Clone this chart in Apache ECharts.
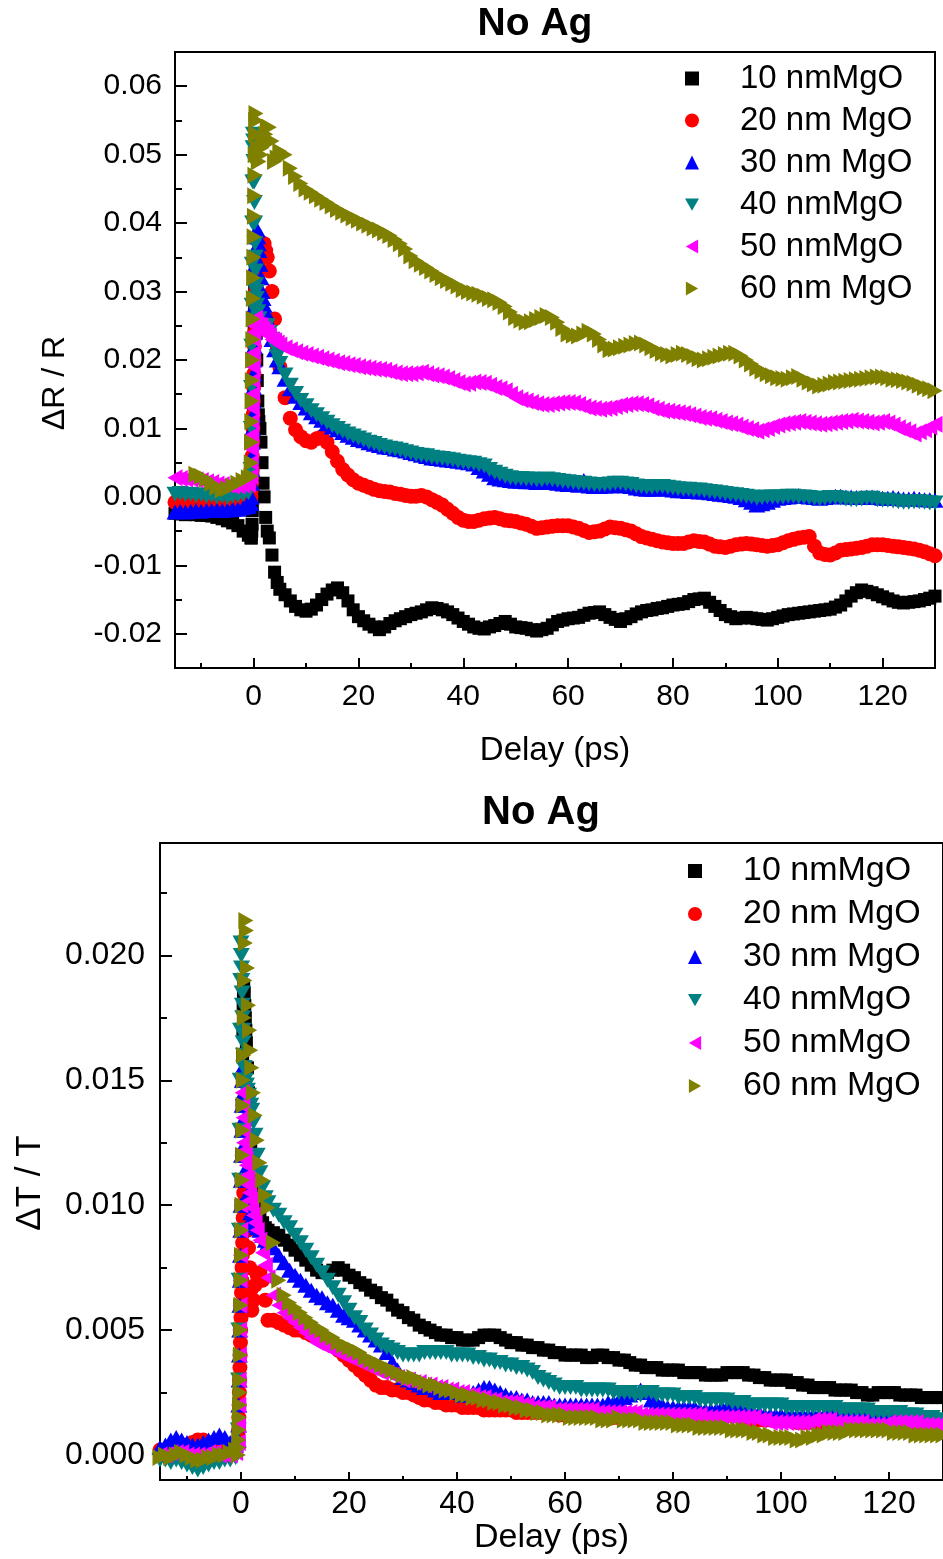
<!DOCTYPE html>
<html><head><meta charset="utf-8">
<script src="https://cdn.jsdelivr.net/npm/echarts@6/dist/echarts.min.js"></script>
<style>html,body{margin:0;padding:0;background:#fff}#c{width:943px;height:1559px}</style>
</head><body><div id="c"></div>
<script>
const SERIES_NAMES = ['10 nmMgO','20 nm MgO','30 nm MgO','40 nmMgO','50 nmMgO','60 nm MgO'];
const COLORS = ['#000000','#ff0000','#0000ff','#008080','#ff00ff','#808000'];
const X_MAJOR = [0,20,40,60,80,100,120];
const X_MINOR = [-10,10,30,50,70,90,110,130];
const R_Y_MAJOR = [-0.02,-0.01,0,0.01,0.02,0.03,0.04,0.05,0.06];
const R_Y_MINOR = [-0.015,-0.005,0.005,0.015,0.025,0.035,0.045,0.055];
const T_Y_MAJOR = [0,0.005,0.01,0.015,0.02];
const T_Y_MINOR = [0.0025,0.0075,0.0125,0.0175,0.0225];

// delay (ps), shared by both panels
const DELAY = [-15,-14,-13,-12,-11,-10,-9,-8,-7,-6,-5,-4,-3,-2,-1,
-0.5,-0.45,-0.4,-0.35,-0.3,-0.25,-0.2,-0.15,-0.1,-0.05,0,0.05,0.1,0.15,0.2,0.25,0.3,0.35,0.4,0.45,0.5,
0.6,0.7,0.8,0.9,1,1.2,1.4,1.6,1.8,2,2.3,2.6,3,3.5,4,4.5,5,
6,7,8,9,10,11,12,13,14,15,
16,17,18,19,20,21,22,23,24,25,
26,27,28,29,30,31,32,33,34,35,
36,37,38,39,40,41,42,43,44,45,
46,47,48,49,50,51,52,53,54,55,
56,57,58,59,60,61,62,63,64,65,
66,67,68,69,70,71,72,73,74,75,
76,77,78,79,80,81,82,83,84,85,
86,87,88,89,90,91,92,93,94,95,
96,97,98,99,100,101,102,103,104,105,
106,107,108,109,110,111,112,113,114,115,
116,117,118,119,120,121,122,123,124,125,
126,127,128,129,130];

// top panel: dR/R
const R10 = [-0.0024,-0.0025,-0.0026,-0.0025,-0.0026,-0.0027,-0.0027,-0.0028,-0.003,-0.0032,-0.0035,-0.0038,-0.0042,-0.005,-0.0056,
-0.006,-0.006,-0.0055,-0.005,-0.004,-0.002,0.001,0.004,0.008,0.012,0.016,0.02,0.024,0.027,0.03,0.032,0.033,0.032,0.03,0.027,0.024,
0.02,0.017,0.014,0.012,0.011,0.01,0.008,0.005,0.002,0,-0.003,-0.005,-0.006,-0.0085,-0.011,-0.0125,-0.0135,
-0.0143,-0.0152,-0.016,-0.0165,-0.0167,-0.0164,-0.0158,-0.015,-0.0142,-0.0136,
-0.0133,-0.014,-0.0152,-0.0165,-0.0175,-0.0181,-0.0186,-0.019,-0.0194,-0.019,
-0.0185,-0.0181,-0.0178,-0.0175,-0.0172,-0.017,-0.0168,-0.0165,-0.0162,-0.0163,
-0.0165,-0.0168,-0.0172,-0.0177,-0.0182,-0.0186,-0.019,-0.0192,-0.0193,-0.019,
-0.0188,-0.0185,-0.0182,-0.0186,-0.019,-0.0191,-0.0192,-0.0194,-0.0196,-0.0194,
-0.0192,-0.0187,-0.0182,-0.018,-0.0178,-0.0177,-0.0176,-0.0173,-0.017,-0.0169,
-0.0168,-0.0172,-0.0176,-0.0179,-0.0182,-0.0178,-0.0175,-0.0171,-0.0168,-0.0166,
-0.0165,-0.0163,-0.0162,-0.016,-0.0158,-0.0157,-0.0156,-0.0153,-0.015,-0.0149,
-0.0148,-0.0154,-0.016,-0.0166,-0.0172,-0.0175,-0.0178,-0.0177,-0.0176,-0.0177,
-0.0178,-0.0179,-0.018,-0.0178,-0.0176,-0.0174,-0.0172,-0.0171,-0.017,-0.0169,
-0.0168,-0.0167,-0.0166,-0.0165,-0.0164,-0.0161,-0.0158,-0.0152,-0.0145,-0.014,
-0.0136,-0.0138,-0.014,-0.0143,-0.0146,-0.0149,-0.0152,-0.0154,-0.0155,-0.0154,
-0.0153,-0.0152,-0.015,-0.0148,-0.0145];
const R20 = [-0.0008,-0.0009,-0.0008,-0.001,-0.0009,-0.0008,-0.001,-0.0011,-0.001,-0.0009,-0.0008,-0.0008,-0.0007,-0.0005,-0.0002,
0,0.001,0.002,0.003,0.004,0.006,0.008,0.01,0.012,0.014,0.016,0.018,0.02,0.022,0.024,0.026,0.027,0.028,0.029,0.03,0.031,
0.032,0.033,0.034,0.035,0.036,0.037,0.037,0.037,0.037,0.037,0.036,0.035,0.033,0.03,0.026,0.022,0.019,
0.0145,0.0115,0.0098,0.0088,0.0082,0.008,0.0085,0.0088,0.008,0.0066,
0.0052,0.004,0.0032,0.0025,0.002,0.0017,0.0014,0.0011,0.0009,0.0008,
0.0007,0.0005,0.0004,0.0002,0.0001,0.0001,0.0002,0,-0.0004,-0.0008,
-0.0012,-0.0018,-0.0024,-0.003,-0.0034,-0.0036,-0.0036,-0.0034,-0.0032,-0.0031,
-0.003,-0.0032,-0.0034,-0.0035,-0.0036,-0.0038,-0.004,-0.0043,-0.0046,-0.0045,
-0.0044,-0.0043,-0.0042,-0.0042,-0.0042,-0.0044,-0.0046,-0.0049,-0.0052,-0.0051,
-0.005,-0.0047,-0.0044,-0.0045,-0.0046,-0.0048,-0.005,-0.0054,-0.0058,-0.006,
-0.0062,-0.0064,-0.0066,-0.0067,-0.0068,-0.0068,-0.0068,-0.0066,-0.0064,-0.0065,
-0.0066,-0.0069,-0.0072,-0.0073,-0.0074,-0.0072,-0.007,-0.0069,-0.0068,-0.0069,
-0.007,-0.0071,-0.0072,-0.0071,-0.007,-0.0067,-0.0064,-0.0062,-0.006,-0.0059,
-0.0058,-0.0072,-0.0082,-0.0084,-0.0085,-0.0082,-0.0078,-0.0077,-0.0076,-0.0075,
-0.0074,-0.0072,-0.007,-0.007,-0.007,-0.0071,-0.0072,-0.0073,-0.0074,-0.0075,
-0.0076,-0.0078,-0.008,-0.0083,-0.0086];
const R30 = [-0.0022,-0.0021,-0.0022,-0.0021,-0.002,-0.0021,-0.002,-0.002,-0.0019,-0.002,-0.0019,-0.0018,-0.0018,-0.0016,-0.0014,
-0.001,0,0.002,0.004,0.006,0.008,0.01,0.012,0.014,0.016,0.018,0.02,0.022,0.024,0.026,0.028,0.03,0.032,0.034,0.036,0.038,
0.039,0.039,0.038,0.037,0.036,0.034,0.032,0.03,0.029,0.028,0.027,0.026,0.025,0.023,0.0215,0.02,0.019,
0.0172,0.0158,0.0147,0.0138,0.013,0.0123,0.0117,0.0112,0.0107,0.0102,
0.0098,0.0094,0.009,0.0087,0.0084,0.0082,0.0079,0.0077,0.0075,0.0073,
0.0072,0.007,0.0069,0.0067,0.0065,0.0063,0.0061,0.0059,0.0057,0.0056,
0.0055,0.0054,0.0053,0.0052,0.0051,0.005,0.0048,0.0043,0.0038,0.0033,
0.0028,0.0026,0.0025,0.0024,0.0023,0.0023,0.0022,0.0022,0.0021,0.0022,
0.0022,0.0021,0.002,0.0019,0.0018,0.0018,0.0017,0.0024,0.0016,0.0015,
0.0015,0.0016,0.0016,0.0017,0.0018,0.0016,0.0015,0.0013,0.0012,0.0011,
0.0011,0.0012,0.0012,0.0011,0.001,0.0009,0.0009,0.0008,0.0008,0.0007,
0.0007,0.0006,0.0005,0.0004,0.0003,0.0002,0.0001,-0.0001,-0.0004,-0.0008,
-0.0012,-0.001,-0.0008,-0.0005,-0.0002,-0.0001,0,0.0001,0.0002,0.0001,
0,-0.0001,-0.0002,-0.0001,0,0.0001,0.0001,0,0,-0.0001,
-0.0001,0,0,-0.0001,-0.0002,-0.0002,-0.0001,-0.0002,-0.0003,-0.0003,
-0.0002,-0.0003,-0.0004,-0.0004,-0.0005];
const R40 = [0.0004,0.0005,0.0003,0.0004,0.0002,0.0003,0.0001,0.0002,0,0.0001,-0.0001,0.0001,0.0002,0.0004,0.0006,
0.004,0.01,0.016,0.022,0.028,0.034,0.04,0.046,0.051,0.053,0.052,0.049,0.046,0.043,0.04,0.037,0.035,0.033,0.031,0.03,0.029,
0.028,0.027,0.027,0.026,0.026,0.025,0.025,0.025,0.025,0.025,0.025,0.025,0.024,0.023,0.022,0.0205,0.0195,
0.0178,0.0163,0.0151,0.0141,0.0133,0.0126,0.012,0.0114,0.0109,0.0104,
0.01,0.0096,0.0092,0.0089,0.0086,0.0083,0.008,0.0078,0.0075,0.0073,
0.0071,0.007,0.0068,0.0066,0.0064,0.0062,0.0061,0.006,0.0058,0.0057,
0.0056,0.0055,0.0054,0.0052,0.0051,0.005,0.0049,0.0047,0.0045,0.004,
0.0036,0.0033,0.003,0.0028,0.0027,0.0027,0.0026,0.0026,0.0025,0.0025,
0.0026,0.0025,0.0024,0.0023,0.0022,0.0021,0.002,0.002,0.0019,0.0018,
0.0018,0.0018,0.0019,0.002,0.002,0.0019,0.0018,0.0016,0.0015,0.0014,
0.0014,0.0015,0.0015,0.0014,0.0013,0.0012,0.0011,0.0011,0.001,0.001,
0.0009,0.0008,0.0007,0.0006,0.0005,0.0004,0.0003,0.0002,0.0001,0,
-0.0002,-0.0001,0,0,0,0,0.0001,0.0001,0,0,
-0.0001,-0.0002,-0.0003,-0.0002,-0.0001,-0.0001,-0.0002,-0.0003,-0.0004,-0.0004,
-0.0003,-0.0002,-0.0002,-0.0004,-0.0005,-0.0005,-0.0006,-0.0007,-0.0008,-0.0008,
-0.0007,-0.0007,-0.0008,-0.0009,-0.0009];
const R50 = [0.0028,0.0027,0.0026,0.0026,0.0025,0.0024,0.0022,0.0021,0.0019,0.0018,0.0017,0.0016,0.0016,0.0017,0.0018,
0.003,0.005,0.007,0.009,0.011,0.013,0.015,0.017,0.019,0.021,0.023,0.024,0.025,0.026,0.026,0.026,0.026,0.026,0.0255,0.0255,0.025,
0.025,0.025,0.025,0.025,0.025,0.025,0.025,0.0245,0.0245,0.024,0.024,0.024,0.0235,0.023,0.0228,0.0225,0.0222,
0.0218,0.0215,0.0212,0.021,0.0208,0.0206,0.0204,0.0202,0.02,0.0198,
0.0196,0.0195,0.0193,0.0192,0.019,0.0189,0.0188,0.0187,0.0186,0.0185,
0.0183,0.0181,0.018,0.018,0.018,0.0181,0.0182,0.018,0.0178,0.0177,
0.0175,0.0173,0.017,0.0167,0.0165,0.0166,0.0168,0.0167,0.0166,0.0163,
0.016,0.0158,0.0155,0.015,0.0145,0.0142,0.014,0.0138,0.0136,0.0135,
0.0135,0.0136,0.0137,0.0138,0.0138,0.0137,0.0135,0.0132,0.013,0.0129,
0.0128,0.0129,0.013,0.0132,0.0134,0.0135,0.0136,0.0136,0.0135,0.0133,
0.013,0.0128,0.0126,0.0125,0.0124,0.0123,0.0122,0.012,0.0118,0.0116,
0.0115,0.0114,0.0112,0.011,0.0108,0.0107,0.0105,0.0102,0.01,0.0098,
0.0096,0.0098,0.01,0.0103,0.0105,0.0107,0.0108,0.0109,0.011,0.0109,
0.0108,0.0107,0.0106,0.0107,0.0108,0.0109,0.011,0.0111,0.0112,0.0111,
0.011,0.0109,0.0108,0.0109,0.011,0.0108,0.0105,0.0101,0.0098,0.0095,
0.0092,0.0095,0.0098,0.0102,0.0106];
const R60 = [null,null,null,null,0.0033,0.003,0.0026,0.002,0.0014,0.001,0.0012,0.0016,0.002,0.0024,0.0028,
0.003,0.005,0.008,0.011,0.014,0.017,0.02,0.023,0.026,0.029,0.032,0.035,0.038,0.041,0.044,0.047,0.05,0.053,0.055,0.056,0.055,
0.053,0.051,0.05,0.049,0.049,0.05,0.05,0.051,0.052,0.052,0.053,0.054,0.054,0.052,0.049,0.0495,0.0505,
0.05,0.048,0.0468,0.0458,0.045,0.0445,0.044,0.0435,0.043,0.0425,
0.042,0.0416,0.0412,0.0408,0.0404,0.04,0.0397,0.0393,0.039,0.0386,
0.0382,0.0376,0.037,0.0362,0.0352,0.0345,0.034,0.0335,0.033,0.0325,
0.032,0.0316,0.0312,0.0308,0.0303,0.03,0.0298,0.0296,0.0293,0.029,
0.0288,0.0284,0.0278,0.027,0.0262,0.0258,0.0255,0.0256,0.0259,0.0262,
0.0265,0.0262,0.0255,0.0246,0.0238,0.0236,0.0235,0.0238,0.0242,0.0238,
0.023,0.0222,0.0215,0.0216,0.0218,0.022,0.0222,0.0224,0.0225,0.0222,
0.0218,0.0214,0.021,0.0208,0.0206,0.0208,0.021,0.0208,0.0205,0.0202,
0.02,0.0202,0.0204,0.0206,0.0208,0.021,0.021,0.0206,0.02,0.0194,
0.0188,0.0184,0.018,0.0177,0.0174,0.0173,0.0172,0.0174,0.0176,0.0172,
0.0168,0.0165,0.0162,0.0163,0.0165,0.0167,0.0168,0.0169,0.017,0.0171,
0.0172,0.0173,0.0174,0.0175,0.0175,0.0174,0.0172,0.0171,0.017,0.0168,
0.0166,0.0163,0.016,0.0158,0.0155];

// bottom panel: dT/T
const T10 = [0,0,0.0001,0,0,0.0001,0,0,0.0001,0,0,0.0001,0.0001,0.0002,0.0003,
0.0005,0.001,0.002,0.003,0.004,0.005,0.006,0.007,0.008,0.009,0.01,0.011,0.012,0.013,0.014,0.015,0.016,0.017,0.018,0.0185,0.0188,
0.0185,0.018,0.0175,0.017,0.0165,0.0155,0.0145,0.0135,0.0125,0.0118,0.011,0.0105,0.01,0.0096,0.0093,0.0091,0.009,
0.0089,0.0088,0.0086,0.0084,0.0082,0.008,0.0078,0.0076,0.0074,0.0073,
0.0073,0.0074,0.0075,0.0074,0.0072,0.0071,0.0069,0.0068,0.0066,0.0065,
0.0063,0.0062,0.006,0.0058,0.0057,0.0055,0.0054,0.0052,0.0051,0.005,
0.0049,0.0048,0.0048,0.0047,0.0047,0.0046,0.0046,0.0046,0.0047,0.0048,
0.0048,0.0048,0.0047,0.0046,0.0045,0.0045,0.0044,0.0044,0.0043,0.0043,
0.0042,0.0042,0.0041,0.0041,0.004,0.004,0.004,0.004,0.0039,0.0039,
0.004,0.004,0.0039,0.0039,0.0038,0.0038,0.0037,0.0036,0.0036,0.0035,
0.0035,0.0035,0.0034,0.0034,0.0034,0.0034,0.0033,0.0033,0.0033,0.0033,
0.0032,0.0032,0.0032,0.0032,0.0033,0.0033,0.0033,0.0033,0.0032,0.0032,
0.0031,0.0031,0.003,0.003,0.003,0.003,0.0029,0.0029,0.0028,0.0028,
0.0027,0.0027,0.0027,0.0027,0.0026,0.0026,0.0026,0.0026,0.0025,0.0025,
0.0024,0.0024,0.0025,0.0025,0.0025,0.0025,0.0024,0.0024,0.0024,0.0024,
0.0023,0.0023,0.0023,0.0023,0.0023];
const T20 = [0.0002,0.0002,0.0003,0.0003,0.0003,0.0004,0.0005,0.0006,0.0006,0.0005,0.0004,0.0003,0.0003,0.0003,0.0004,
0.0006,0.001,0.0015,0.002,0.0025,0.003,0.0035,0.004,0.0045,0.005,0.0055,0.006,0.0065,0.007,0.0075,0.008,0.0085,0.009,0.0095,0.01,0.0105,
0.011,0.0108,0.0104,0.01,0.0095,0.009,0.0083,0.0075,0.0066,0.0058,0.0062,0.0068,0.0072,0.0073,0.007,0.0062,0.0054,
0.0054,0.0053,0.0052,0.0051,0.005,0.005,0.0049,0.0048,0.0048,0.0047,
0.0046,0.0044,0.0042,0.004,0.0038,0.0036,0.0034,0.0032,0.003,0.0028,
0.0027,0.0027,0.0026,0.0026,0.0025,0.0025,0.0024,0.0023,0.0022,0.0022,
0.0021,0.0021,0.002,0.002,0.002,0.0019,0.0019,0.0019,0.0019,0.0018,
0.0018,0.0018,0.0018,0.0018,0.0018,0.0017,0.0017,0.0017,0.0017,0.0017,
0.0017,0.0017,0.0017,0.0016,0.0016,0.0016,0.0016,0.0016,0.0016,0.0016,
0.0016,0.0015,0.0015,0.0015,0.0015,0.0015,0.0015,0.0015,0.0015,0.0015,
0.0015,0.0015,0.0015,0.0015,0.0015,0.0015,0.0015,0.0015,0.0015,0.0015,
0.0015,0.0016,0.0016,0.0016,0.0016,0.0016,0.0016,0.0015,0.0015,0.0014,
0.0014,0.0014,0.0014,0.0014,0.0014,0.0014,0.0014,0.0013,0.0013,0.0013,
0.0013,0.0013,0.0013,0.0013,0.0013,0.0013,0.0013,0.0013,0.0013,0.0013,
0.0013,0.0012,0.0012,0.0012,0.0012,0.0012,0.0012,0.0012,0.0012,0.0011,
0.0011,0.0011,0.0011,0.0011,0.0011];
const T30 = [0.0003,0.0004,0.0006,0.0007,0.0006,0.0005,0.0004,0.0004,0.0005,0.0006,0.0007,0.0008,0.0007,0.0005,0.0004,
0.0006,0.0012,0.002,0.003,0.004,0.005,0.006,0.007,0.008,0.009,0.01,0.011,0.012,0.013,0.014,0.015,0.0155,0.0155,0.015,0.0145,0.014,
0.0135,0.013,0.0125,0.012,0.0115,0.011,0.0105,0.01,0.0097,0.0095,0.0093,0.0092,0.0091,0.009,0.0088,0.0086,0.0085,
0.0083,0.008,0.0077,0.0074,0.0072,0.007,0.0068,0.0066,0.0064,0.0063,
0.0061,0.006,0.0058,0.0056,0.0055,0.0054,0.0052,0.005,0.0048,0.0046,
0.0044,0.0041,0.0037,0.0034,0.0031,0.003,0.0029,0.0028,0.0027,0.0027,
0.0026,0.0025,0.0025,0.0025,0.0025,0.0024,0.0024,0.0025,0.0026,0.0027,
0.0027,0.0026,0.0025,0.0024,0.0023,0.0023,0.0022,0.0022,0.0021,0.0021,
0.0021,0.0021,0.002,0.002,0.002,0.002,0.002,0.002,0.002,0.002,
0.002,0.002,0.0021,0.0021,0.0022,0.0023,0.0024,0.0025,0.0026,0.0025,
0.0022,0.0021,0.002,0.0019,0.0019,0.0019,0.0019,0.0019,0.0019,0.0018,
0.0018,0.0018,0.0018,0.0019,0.0019,0.0019,0.0019,0.0018,0.0018,0.0017,
0.0017,0.0016,0.0016,0.0016,0.0016,0.0016,0.0016,0.0016,0.0016,0.0016,
0.0016,0.0016,0.0016,0.0017,0.0017,0.0018,0.0018,0.0018,0.0018,0.0017,
0.0017,0.0016,0.0016,0.0015,0.0015,0.0015,0.0015,0.0015,0.0016,0.0015,
0.0015,0.0014,0.0014,0.0014,0.0014];
const T40 = [-0.0002,-0.0002,-0.0003,-0.0002,-0.0003,-0.0004,-0.0005,-0.0006,-0.0005,-0.0004,-0.0003,-0.0003,-0.0002,-0.0002,-0.0001,
0.001,0.003,0.005,0.007,0.009,0.011,0.013,0.015,0.017,0.019,0.0205,0.02,0.0195,0.019,0.0185,0.018,0.0175,0.017,0.0165,0.016,0.0155,
0.0155,0.015,0.015,0.0148,0.0148,0.0146,0.0144,0.0142,0.014,0.0138,0.0133,0.0128,0.012,0.0113,0.0107,0.0103,0.0101,
0.0098,0.0096,0.0093,0.0091,0.0088,0.0085,0.0082,0.0079,0.0076,0.0073,
0.007,0.0067,0.0064,0.0061,0.0058,0.0055,0.0053,0.005,0.0048,0.0046,
0.0044,0.0043,0.0042,0.0041,0.004,0.004,0.004,0.004,0.0041,0.0041,
0.0041,0.0041,0.0041,0.004,0.004,0.004,0.004,0.0039,0.0039,0.0038,
0.0038,0.0037,0.0037,0.0036,0.0036,0.0035,0.0035,0.0034,0.0033,0.0031,
0.003,0.0029,0.0028,0.0027,0.0027,0.0027,0.0027,0.0026,0.0026,0.0026,
0.0026,0.0026,0.0026,0.0025,0.0025,0.0025,0.0025,0.0024,0.0024,0.0025,
0.0025,0.0024,0.0024,0.0024,0.0024,0.0023,0.0023,0.0023,0.0023,0.0022,
0.0022,0.0022,0.0022,0.0022,0.0022,0.0021,0.0021,0.0021,0.002,0.002,
0.002,0.002,0.002,0.002,0.002,0.0019,0.0019,0.0019,0.0019,0.0019,
0.0019,0.0019,0.0019,0.0019,0.0019,0.0018,0.0018,0.0018,0.0018,0.0018,
0.0018,0.0017,0.0017,0.0017,0.0017,0.0017,0.0017,0.0016,0.0016,0.0016,
0.0015,0.0015,0.0015,0.0014,0.0014];
const T50 = [0,0,0.0001,0.0001,0.0001,0,0,0,0,0.0001,0.0001,0,0,0,0.0001,
0.0005,0.0012,0.002,0.003,0.004,0.005,0.006,0.007,0.008,0.009,0.01,0.011,0.012,0.013,0.014,0.0145,0.0145,0.014,0.0135,0.013,0.0125,
0.0125,0.0122,0.012,0.0118,0.0116,0.0112,0.0108,0.0105,0.0102,0.0099,0.0096,0.0093,0.009,0.0086,0.0081,0.0076,0.0071,
0.0064,0.006,0.0057,0.0055,0.0053,0.0051,0.0049,0.0047,0.0045,0.0044,
0.0043,0.0042,0.0041,0.004,0.0039,0.0038,0.0037,0.0036,0.0035,0.0034,
0.0033,0.0033,0.0032,0.0031,0.003,0.003,0.0029,0.0029,0.0028,0.0028,
0.0027,0.0027,0.0026,0.0026,0.0025,0.0025,0.0024,0.0024,0.0023,0.0023,
0.0022,0.0022,0.0021,0.0021,0.0021,0.0021,0.002,0.002,0.0019,0.0019,
0.0019,0.0019,0.0018,0.0018,0.0018,0.0018,0.0018,0.0018,0.0018,0.0018,
0.0017,0.0017,0.0017,0.0017,0.0017,0.0017,0.0017,0.0017,0.0016,0.0016,
0.0016,0.0016,0.0016,0.0016,0.0016,0.0016,0.0016,0.0016,0.0016,0.0016,
0.0015,0.0015,0.0015,0.0015,0.0015,0.0015,0.0015,0.0015,0.0015,0.0015,
0.0014,0.0014,0.0013,0.0013,0.0013,0.0013,0.0013,0.0013,0.0013,0.0013,
0.0014,0.0014,0.0014,0.0014,0.0013,0.0013,0.0013,0.0013,0.0013,0.0013,
0.0012,0.0012,0.0012,0.0012,0.0013,0.0013,0.0013,0.0013,0.0013,0.0013,
0.0012,0.0012,0.0012,0.0012,0.0012];
const T60 = [-0.0001,0,-0.0001,0,0.0001,0,-0.0001,-0.0002,-0.0002,-0.0001,-0.0001,0,0,0.0001,0.0002,
0,0.0003,0.0006,0.001,0.0015,0.002,0.0025,0.003,0.004,0.005,0.006,0.007,0.008,0.009,0.01,0.011,0.012,0.013,0.014,0.015,0.016,
0.0175,0.019,0.0205,0.0214,0.021,0.0195,0.018,0.017,0.0162,0.0155,0.0145,0.0136,0.0126,0.0117,0.011,0.0104,0.0099,
0.0085,0.007,0.0064,0.0061,0.0059,0.0057,0.0055,0.0053,0.0051,0.005,
0.0048,0.0047,0.0045,0.0044,0.0043,0.0042,0.0041,0.0039,0.0038,0.0037,
0.0036,0.0035,0.0034,0.0033,0.0032,0.0031,0.0031,0.003,0.0029,0.0028,
0.0028,0.0027,0.0026,0.0026,0.0025,0.0024,0.0024,0.0023,0.0023,0.0022,
0.0022,0.0021,0.0021,0.002,0.002,0.0019,0.0019,0.0018,0.0018,0.0017,
0.0017,0.0016,0.0016,0.0016,0.0016,0.0015,0.0015,0.0015,0.0015,0.0015,
0.0015,0.0014,0.0014,0.0014,0.0015,0.0014,0.0014,0.0014,0.0014,0.0013,
0.0013,0.0013,0.0013,0.0013,0.0013,0.0012,0.0012,0.0012,0.0012,0.0011,
0.0011,0.0011,0.0011,0.0011,0.0011,0.001,0.001,0.001,0.001,0.0009,
0.0009,0.0008,0.0008,0.0007,0.0007,0.0007,0.0007,0.0006,0.0006,0.0007,
0.0007,0.0008,0.0008,0.0009,0.0009,0.0009,0.0009,0.001,0.001,0.001,
0.001,0.001,0.001,0.001,0.001,0.0009,0.0009,0.0009,0.0009,0.0008,
0.0008,0.0008,0.0008,0.0008,0.0008];

const R_VALUES = [R10,R20,R30,R40,R50,R60];
const T_VALUES = [T10,T20,T30,T40,T50,T60];

const FONT = '"Liberation Sans", Arial, Helvetica, sans-serif';
const SYMBOLS = ['rect','circle','triangle','path://M0,0L16,0L8,14Z','path://M14,0L14,16L0,8Z','path://M0,0L0,16L14,8Z'];
const SYM_SIZES = [13,15,[17,15],[17,15],[15,17],[15,17]];

const chart = echarts.init(document.getElementById('c'), null, {renderer:'canvas'});

function xAxes(grid, o) {
  return [
    {gridIndex:grid, type:'value', min:-15, max:130, position:'bottom',
     axisLine:{show:true, onZero:false, lineStyle:{color:'#000', width:2}},
     splitLine:{show:false},
     axisTick:{show:true, inside:true, length:o.tickLen, customValues:X_MAJOR, lineStyle:{color:'#000', width:2}},
     axisLabel:{show:true, customValues:X_MAJOR, margin:o.labelMargin, fontSize:o.labelSize, color:'#000', fontFamily:FONT},
     name:'Delay (ps)', nameLocation:'middle', nameGap:o.nameGap,
     nameTextStyle:{fontSize:o.nameSize, color:'#000', fontFamily:FONT}},
    {gridIndex:grid, type:'value', min:-15, max:130, position:'bottom',
     axisLine:{show:false, onZero:false}, splitLine:{show:false},
     axisTick:{show:true, inside:true, length:o.minorLen, customValues:X_MINOR, lineStyle:{color:'#000', width:2}},
     axisLabel:{show:false}}
  ];
}
function yAxes(grid, o) {
  return [
    {gridIndex:grid, type:'value', min:o.min, max:o.max, position:'left',
     axisLine:{show:true, onZero:false, lineStyle:{color:'#000', width:2}},
     splitLine:{show:false},
     axisTick:{show:true, inside:true, length:o.tickLen, customValues:o.major, lineStyle:{color:'#000', width:2}},
     axisLabel:{show:true, customValues:o.major, formatter:v => v.toFixed(o.digits), margin:o.labelMargin,
       fontSize:o.labelSize, color:'#000', fontFamily:FONT}},
    {gridIndex:grid, type:'value', min:o.min, max:o.max, position:'left',
     axisLine:{show:false, onZero:false}, splitLine:{show:false},
     axisTick:{show:true, inside:true, length:o.minorLen, customValues:o.minor, lineStyle:{color:'#000', width:2}},
     axisLabel:{show:false}}
  ];
}

const series = [];
[R_VALUES, T_VALUES].forEach((set, g) => {
  set.forEach((vals, k) => {
    series.push({
      type:'scatter', name:SERIES_NAMES[k], xAxisIndex:g*2, yAxisIndex:g*2,
      data: DELAY.map((d,i) => [d, vals[i]]).filter(p => p[1] !== null && p[1] !== undefined),
      symbol:SYMBOLS[k], symbolSize:SYM_SIZES[k],
      itemStyle:{color:COLORS[k], opacity:1}, silent:true,
      emphasis:{disabled:true}
    });
  });
});

function legend(o) {
  return {data:SERIES_NAMES, orient:'vertical', left:o.left, top:o.top, padding:0,
    itemWidth:14, itemHeight:14, itemGap:o.gap, selectedMode:false,
    textStyle:{fontSize:o.size, color:'#000', fontFamily:FONT, padding:[0,0,0,o.textPad]}};
}

const option = {
  animation:false,
  backgroundColor:'#ffffff',
  grid:[
    {left:175, top:52, width:760, height:616, show:true, borderColor:'#000', borderWidth:2, backgroundColor:'transparent'},
    {left:160, top:843, width:786, height:637, show:true, borderColor:'#000', borderWidth:2, backgroundColor:'transparent'}
  ],
  xAxis:[].concat(
    xAxes(0, {tickLen:10, minorLen:5, labelMargin:14, labelSize:30, nameGap:66, nameSize:33}),
    xAxes(1, {tickLen:8, minorLen:4, labelMargin:8, labelSize:32, nameGap:36, nameSize:34})
  ),
  yAxis:[].concat(
    yAxes(0, {min:-0.025, max:0.065, major:R_Y_MAJOR, minor:R_Y_MINOR, digits:2, tickLen:12, minorLen:7, labelMargin:13, labelSize:30}),
    yAxes(1, {min:-0.001, max:0.0245, major:T_Y_MAJOR, minor:T_Y_MINOR, digits:3, tickLen:12, minorLen:7, labelMargin:15, labelSize:32})
  ),
  legend:[
    legend({left:685, top:62, gap:9, size:33, textPad:36}),
    legend({left:688, top:854, gap:9, size:34, textPad:36})
  ],
  graphic:[
    {type:'text', x:535, y:24, style:{text:'No Ag', font:'bold 39px ' + FONT, fill:'#000', align:'center', verticalAlign:'middle', textAlign:'center', textVerticalAlign:'middle'}},
    {type:'text', x:541, y:813, style:{text:'No Ag', font:'bold 40px ' + FONT, fill:'#000', align:'center', verticalAlign:'middle', textAlign:'center', textVerticalAlign:'middle'}},
    {type:'text', x:55, y:383, rotation:Math.PI/2, style:{text:'ΔR / R', font:'32px ' + FONT, fill:'#000', align:'center', verticalAlign:'middle', textAlign:'center', textVerticalAlign:'middle'}},
    {type:'text', x:30, y:1183, rotation:Math.PI/2, style:{text:'ΔT / T', font:'35px ' + FONT, fill:'#000', align:'center', verticalAlign:'middle', textAlign:'center', textVerticalAlign:'middle'}}
  ],
  series: series
};
chart.setOption(option);
</script>
</body></html>
